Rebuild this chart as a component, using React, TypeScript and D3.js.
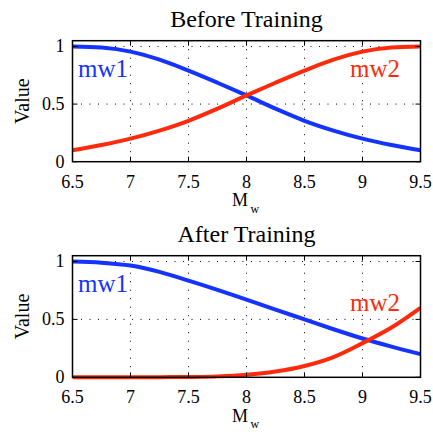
import React from "react";
import * as d3 from "d3";

// magnitude samples (x axis)
const mw = [6.5, 6.75, 7, 7.25, 7.5, 7.75, 8, 8.25, 8.5, 8.75, 9, 9.25, 9.5];

// membership values
const beforeMw1 = [1.0, 0.99, 0.955, 0.885, 0.79, 0.685, 0.575, 0.46, 0.355, 0.27, 0.2, 0.145, 0.1];
const beforeMw2 = [0.1, 0.145, 0.2, 0.27, 0.355, 0.46, 0.575, 0.685, 0.79, 0.885, 0.955, 0.99, 1.0];
const afterMw1 = [1.0, 0.99, 0.965, 0.91, 0.835, 0.755, 0.67, 0.585, 0.5, 0.415, 0.335, 0.265, 0.2];
const afterMw2 = [0.0, 0.0, 0.0, 0.001, 0.003, 0.008, 0.022, 0.05, 0.098, 0.175, 0.295, 0.43, 0.6];

const xTicks = [6.5, 7, 7.5, 8, 8.5, 9, 9.5];
const yTicks = [0, 0.5, 1];
const xTickLabels = ["6.5", "7", "7.5", "8", "8.5", "9", "9.5"];
const yTickLabels = ["0", "0.5", "1"];

const BLUE = "#1433ff";
const RED = "#ff2a0c";
const FONT = "Liberation Serif, DejaVu Serif, serif";

const left = 72.5;
const right = 420.5;

type PanelProps = {
  title: string;
  top: number;
  bottom: number;
  mw1: number[];
  mw2: number[];
  mw1Label: [number, number];
  mw2Label: [number, number];
};

function Panel(props: PanelProps) {
  const { title, top, bottom, mw1, mw2, mw1Label, mw2Label } = props;
  const x = d3.scaleLinear().domain([6.5, 9.5]).range([left, right]);
  const y = d3.scaleLinear().domain([0, 1.05]).range([bottom, top]);

  const line = d3
    .line<number>()
    .x((d, i) => x(mw[i]))
    .y((d) => y(d))
    .curve(d3.curveMonotoneX);

  const tickLen = 5;
  const midX = (left + right) / 2;
  const midY = (top + bottom) / 2;

  return (
    <g style={{ fontFamily: FONT }}>
      <text x={midX} y={top - 14} textAnchor="middle" fontSize={24}>
        {title}
      </text>

      {/* dotted grid */}
      {xTicks.slice(1, -1).map((t) => (
        <line key={"gx" + t} x1={x(t)} x2={x(t)} y1={top} y2={bottom}
          stroke="#000" strokeWidth={1} strokeDasharray="1,7.5" />
      ))}
      {yTicks.slice(1).map((t) => (
        <line key={"gy" + t} x1={left} x2={right} y1={y(t)} y2={y(t)}
          stroke="#000" strokeWidth={1} strokeDasharray="1,7.5" />
      ))}

      {/* curves */}
      <path d={line(mw1) || ""} fill="none" stroke={BLUE} strokeWidth={4} />
      <path d={line(mw2) || ""} fill="none" stroke={RED} strokeWidth={4} />

      {/* box */}
      <rect x={left} y={top} width={right - left} height={bottom - top}
        fill="none" stroke="#000" strokeWidth={1.5} />

      {/* ticks */}
      {xTicks.map((t) => (
        <g key={"tx" + t}>
          <line x1={x(t)} x2={x(t)} y1={bottom} y2={bottom - tickLen} stroke="#000" strokeWidth={1} />
          <line x1={x(t)} x2={x(t)} y1={top} y2={top + tickLen} stroke="#000" strokeWidth={1} />
        </g>
      ))}
      {yTicks.map((t) => (
        <g key={"ty" + t}>
          <line x1={left} x2={left + tickLen} y1={y(t)} y2={y(t)} stroke="#000" strokeWidth={1} />
          <line x1={right} x2={right - tickLen} y1={y(t)} y2={y(t)} stroke="#000" strokeWidth={1} />
        </g>
      ))}

      {/* tick labels */}
      {xTicks.map((t, i) => (
        <text key={"lx" + t} x={x(t)} y={bottom + 26} textAnchor="middle" fontSize={18}>
          {xTickLabels[i]}
        </text>
      ))}
      {yTicks.map((t, i) => (
        <text key={"ly" + t} x={left - 8} y={y(t) + 6} textAnchor="end" fontSize={18}>
          {yTickLabels[i]}
        </text>
      ))}

      {/* axis labels */}
      <text x={232} y={bottom + 44.5} fontSize={18}>
        M
        <tspan x={250.5} y={bottom + 51} fontSize={12}>w</tspan>
      </text>
      <text transform={`translate(29, ${midY}) rotate(-90)`} textAnchor="middle" fontSize={20}>
        Value
      </text>

      {/* series labels */}
      <text x={mw1Label[0]} y={mw1Label[1]} fontSize={25} fill={BLUE}>mw1</text>
      <text x={mw2Label[0]} y={mw2Label[1]} fontSize={25} fill={RED}>mw2</text>
    </g>
  );
}

export default function App() {
  return (
    <svg width={433} height={432} style={{ display: "block", position: "absolute", left: 0, top: 0, background: "#fff" }}>
      <Panel title="Before Training" top={40.7} bottom={161.7}
        mw1={beforeMw1} mw2={beforeMw2} mw1Label={[78, 77]} mw2Label={[350, 77]} />
      <Panel title="After Training" top={255.7} bottom={377.3}
        mw1={afterMw1} mw2={afterMw2} mw1Label={[78, 292]} mw2Label={[350, 311]} />
    </svg>
  );
}
